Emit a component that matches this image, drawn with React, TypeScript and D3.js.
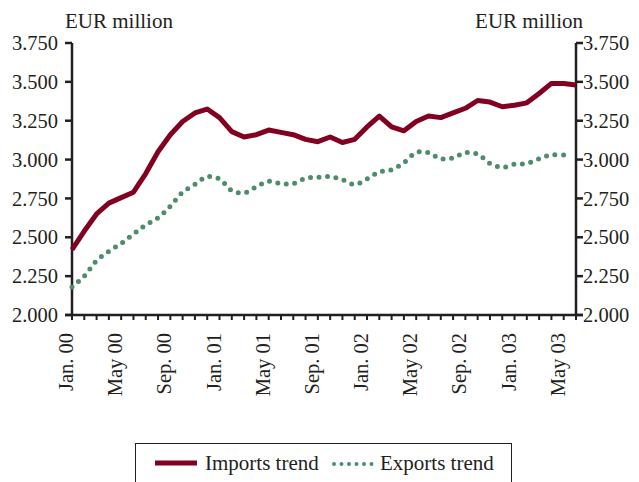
import * as d3 from 'd3'

const months = [
  'Jan. 00', 'Feb. 00', 'Mar. 00', 'Apr. 00', 'May 00', 'Jun. 00', 'Jul. 00', 'Aug. 00', 'Sep. 00', 'Oct. 00', 'Nov. 00', 'Dec. 00',
  'Jan. 01', 'Feb. 01', 'Mar. 01', 'Apr. 01', 'May 01', 'Jun. 01', 'Jul. 01', 'Aug. 01', 'Sep. 01', 'Oct. 01', 'Nov. 01', 'Dec. 01',
  'Jan. 02', 'Feb. 02', 'Mar. 02', 'Apr. 02', 'May 02', 'Jun. 02', 'Jul. 02', 'Aug. 02', 'Sep. 02', 'Oct. 02', 'Nov. 02', 'Dec. 02',
  'Jan. 03', 'Feb. 03', 'Mar. 03', 'Apr. 03', 'May 03', 'Jun. 03',
]

const importsTrend = [
  2420, 2540, 2650, 2720, 2755, 2790, 2910, 3050, 3160, 3245, 3300, 3325,
  3270, 3180, 3145, 3160, 3190, 3175, 3160, 3130, 3115, 3145, 3110, 3130,
  3210, 3280, 3210, 3185, 3245, 3280, 3270, 3300, 3330, 3380, 3370, 3340,
  3350, 3365, 3425, 3490, 3490, 3480,
]

const exportsTrend = [
  2180, 2250, 2350, 2410, 2460, 2520, 2580, 2625, 2700, 2790, 2840, 2890,
  2875, 2800, 2785, 2825, 2860, 2845, 2845, 2880, 2886, 2890, 2870, 2840,
  2875, 2920, 2935, 2980, 3045, 3045, 3005, 3010, 3045, 3035, 2975, 2950,
  2970, 2975, 3005, 3030, 3030,
]

const yTicks = [2000, 2250, 2500, 2750, 3000, 3250, 3500, 3750]
const labelEvery = 4

const W = 639
const H = 482
const FONT = '"Liberation Serif", "Times New Roman", serif'
const AXIS = '#231f20'
const IMPORTS_COLOR = '#820020'
const EXPORTS_COLOR = '#4e8c6c'

const locale = d3.formatLocale({decimal: ',', thousands: '.', grouping: [3], currency: ['', '€']})
const fmt = locale.format(',d')

export default function App() {
  const left = 72
  const right = 576
  const top = 43
  const bottom = 315

  const x = d3.scaleLinear().domain([0, months.length - 1]).range([left, right])
  const y = d3.scaleLinear().domain([2000, 3750]).range([bottom, top])

  const line = d3
    .line<number>()
    .x((_, i) => x(i))
    .y(d => y(d))
  const smooth = d3
    .line<number>()
    .x((_, i) => x(i))
    .y(d => y(d))
    .curve(d3.curveCatmullRom)

  return (
    <svg
      width={W}
      height={H}
      style={{position: 'absolute', left: 0, top: 0, background: '#fff'}}
      fontFamily={FONT}
    >
      <text x={65} y={28} fontSize={21} fill={AXIS}>EUR million</text>
      <text x={583} y={28} fontSize={21} fill={AXIS} textAnchor="end">EUR million</text>

      {/* left axis */}
      <line x1={left} x2={left} y1={top} y2={bottom} stroke={AXIS} strokeWidth={2.5} />
      {yTicks.map(t => (
        <g key={'l' + t}>
          <line x1={left - 7} x2={left} y1={y(t)} y2={y(t)} stroke={AXIS} strokeWidth={2.5} />
          <text x={58} y={y(t)} dy="0.35em" fontSize={20.5} textAnchor="end" fill={AXIS}>{fmt(t)}</text>
        </g>
      ))}

      {/* right axis */}
      <line x1={right} x2={right} y1={top} y2={bottom} stroke={AXIS} strokeWidth={2.5} />
      {yTicks.map(t => (
        <g key={'r' + t}>
          <line x1={right} x2={right + 7} y1={y(t)} y2={y(t)} stroke={AXIS} strokeWidth={2.5} />
          <text x={583} y={y(t)} dy="0.35em" fontSize={20.5} fill={AXIS}>{fmt(t)}</text>
        </g>
      ))}

      {/* bottom axis */}
      <line x1={left - 7} x2={right + 7} y1={bottom} y2={bottom} stroke={AXIS} strokeWidth={2.5} />
      {months.map((m, i) => (
        <line key={'t' + i} x1={x(i)} x2={x(i)} y1={bottom} y2={bottom + 5} stroke={AXIS} strokeWidth={2} />
      ))}
      {months.map((m, i) =>
        i % labelEvery === 0 ? (
          <text
            key={'m' + i}
            transform={`translate(${x(i) + 1},333) rotate(-90)`}
            fontSize={20.5}
            textAnchor="end"
            fill={AXIS}
          >
            {m}
          </text>
        ) : null,
      )}

      {/* series */}
      <path
        d={smooth(exportsTrend) || ''}
        fill="none"
        stroke={EXPORTS_COLOR}
        strokeWidth={5}
        strokeLinecap="round"
        strokeDasharray="0 8.5"
      />
      <path
        d={line(importsTrend) || ''}
        fill="none"
        stroke={IMPORTS_COLOR}
        strokeWidth={5}
        strokeLinejoin="round"
      />

      {/* legend */}
      <rect x={135.5} y={443.5} width={376} height={50} fill="#fff" stroke={AXIS} strokeWidth={1} />
      <line x1={155} x2={197} y1={463} y2={463} stroke={IMPORTS_COLOR} strokeWidth={5} />
      <text x={205} y={470} fontSize={21} fill={AXIS}>Imports trend</text>
      <line
        x1={334}
        x2={372}
        y1={464}
        y2={464}
        stroke={EXPORTS_COLOR}
        strokeWidth={4}
        strokeLinecap="round"
        strokeDasharray="0 7.5"
      />
      <text x={380} y={470} fontSize={21} fill={AXIS}>Exports trend</text>
    </svg>
  )
}
